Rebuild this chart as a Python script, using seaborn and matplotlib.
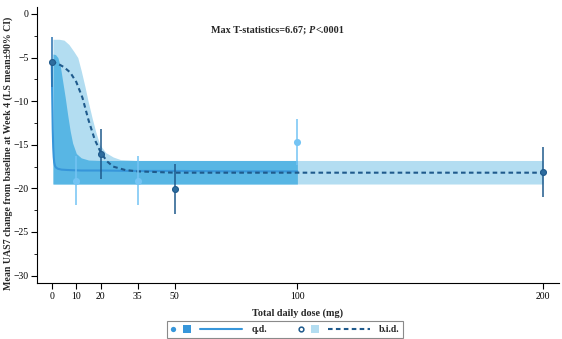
import matplotlib
matplotlib.use("Agg")
import matplotlib.pyplot as plt
import seaborn as sns
import pandas as pd
from matplotlib.lines import Line2D
from matplotlib.patches import Patch, Rectangle
from matplotlib.legend_handler import HandlerBase
from matplotlib.ticker import MultipleLocator

# ---- observed LS means and 90% CIs ----
placebo_dose = [0]
placebo_mean = [-5.5]
placebo_lo = [-8.35]
placebo_hi = [-2.6]

qd_dose = [10, 35, 100]
qd_mean = [-19.1, -19.1, -14.7]
qd_lo = [-21.95, -21.95, -17.3]
qd_hi = [-16.3, -16.3, -12.0]

bid_dose = [20, 50, 200]
bid_mean = [-16.1, -20.1, -18.1]
bid_lo = [-18.9, -22.9, -21.0]
bid_hi = [-13.2, -17.2, -15.3]

# ---- fitted dose-response curves ----
qd_curve_dose = [0, 0.2, 0.4, 0.6, 0.8, 1.0, 1.3, 1.7, 2.5, 4, 7, 12, 20, 35, 50, 75, 100]
qd_curve_mean = [-5.5, -9.5, -13.2, -15.3, -16.4, -17.0, -17.4, -17.6, -17.75, -17.85,
                 -17.9, -17.95, -17.95, -18.0, -18.0, -18.05, -18.05]

bid_curve_dose = [0, 2.5, 5, 7.5, 10, 12.5, 15, 17.5, 20, 22.5, 25, 30, 35, 50, 100, 200]
bid_curve_mean = [-5.5, -5.7, -6.1, -6.7, -7.8, -9.6, -12.2, -14.4, -15.9, -16.9, -17.5,
                  -17.9, -18.05, -18.2, -18.2, -18.2]

# ---- fitted confidence bands ----
qd_band_dose = [0.5, 1.5, 2.5, 3.5, 4.5, 5.5, 6.5, 7.5, 8.5, 10, 12, 15, 20, 35, 50, 100]
qd_band_hi = [-4.6, -4.65, -5.0, -6.0, -7.8, -9.6, -11.6, -13.4, -14.8, -16.0, -16.5,
              -16.75, -16.8, -16.8, -16.8, -16.8]
qd_band_lo = [-19.5] * len(qd_band_dose)

bid_band_dose = [0.5, 3, 5, 7, 9, 10.6, 12, 13.5, 14.8, 16.5, 18, 19.6, 22, 25, 28, 35, 100, 200]
bid_band_hi = [-2.9, -2.9, -3.0, -3.5, -4.3, -5.0, -6.5, -8.3, -10.0, -12.0, -13.6, -15.0,
               -15.9, -16.4, -16.7, -16.8, -16.8, -16.8]
bid_band_lo = [-19.5] * len(bid_band_dose)

dose_ticks = [0, 10, 20, 35, 50, 100, 200]

# ---- colours ----
QD_LINE = "#3796da"
QD_PT = "#74c4f4"
QD_BAND = "#58b6e4"
BID_BAND = "#b3ddf1"
BID_DARK = "#1f5a8c"
BID_PT = "#2d6c9e"

sns.set_style("ticks")
plt.rcParams["font.family"] = ["Liberation Serif", "DejaVu Serif"]
plt.rcParams["axes.unicode_minus"] = True

fig = plt.figure(figsize=(5.62, 3.39), dpi=100)
W, H = 562, 339
ax = fig.add_axes([37 / W, 1 - 283 / H, (559 - 37) / W, (283 - 7) / H])

# bands
ax.fill_between(bid_band_dose, bid_band_lo, bid_band_hi, color=BID_BAND, lw=0, zorder=1)
ax.fill_between(qd_band_dose, qd_band_lo, qd_band_hi, color=QD_BAND, lw=0, zorder=2)

# fitted curves
qd_curve = pd.DataFrame({"dose": qd_curve_dose, "mean": qd_curve_mean})
bid_curve = pd.DataFrame({"dose": bid_curve_dose, "mean": bid_curve_mean})
sns.lineplot(data=qd_curve, x="dose", y="mean", ax=ax, color=QD_LINE, lw=1.5,
             sort=False, zorder=3)
sns.lineplot(data=bid_curve, x="dose", y="mean", ax=ax, color=BID_DARK, lw=1.5,
             sort=False, zorder=4)
ax.lines[-1].set_dashes((2.2, 1.6))


# observed means with CIs
def err(m, lo, hi):
    return [[mm - l for mm, l in zip(m, lo)], [h - mm for mm, h in zip(m, hi)]]


ax.errorbar(qd_dose, qd_mean, yerr=err(qd_mean, qd_lo, qd_hi), fmt="none",
            ecolor=QD_PT, elinewidth=1.1, capsize=0, zorder=5)
ax.errorbar(bid_dose, bid_mean, yerr=err(bid_mean, bid_lo, bid_hi), fmt="none",
            ecolor=BID_DARK, elinewidth=1.1, capsize=0, zorder=5)
ax.errorbar(placebo_dose, placebo_mean, yerr=err(placebo_mean, placebo_lo, placebo_hi),
            fmt="none", ecolor="#2872b0", elinewidth=1.1, capsize=0, zorder=5)

sns.scatterplot(x=qd_dose, y=qd_mean, ax=ax, color=QD_PT, s=26, linewidth=0, zorder=6)
sns.scatterplot(x=bid_dose, y=bid_mean, ax=ax, color=BID_PT, s=18,
                edgecolor=BID_DARK, linewidth=0.8, zorder=6)
sns.scatterplot(x=placebo_dose, y=placebo_mean, ax=ax, color=BID_PT, s=18,
                edgecolor=BID_DARK, linewidth=0.8, zorder=6)

# axes
ax.set_xlim(-6, 206.5)
ax.set_ylim(-30.85, 0.8)
ax.set_xticks(dose_ticks)
ax.set_xticklabels([str(d) for d in dose_ticks])
ax.set_yticks([0, -5, -10, -15, -20, -25, -30])
ax.yaxis.set_minor_locator(MultipleLocator(2.5))
ax.tick_params(axis="both", which="major", length=4, width=0.8, color="black",
               labelsize=7, pad=2.5, labelcolor="black")
ax.tick_params(axis="y", which="major", pad=1.8)
ax.tick_params(axis="y", which="minor", length=2, width=0.6, color="black")
for side in ("top", "right"):
    ax.spines[side].set_visible(False)
for side in ("left", "bottom"):
    ax.spines[side].set_color("black")
    ax.spines[side].set_linewidth(0.8)
ax.grid(False)

ax.set_xlabel("Total daily dose (mg)", fontsize=7.3, fontweight="bold", labelpad=5)
ax.set_ylabel("Mean UAS7 change from baseline at Week 4 (LS mean\u00b190% CI)",
              fontsize=7.1, fontweight="bold")
ax.yaxis.set_label_coords((13 - 37) / 522, 0.47)

# test statistic annotation
t1 = fig.text(211 / W, 1 - 30.5 / H, "Max T-statistics=6.67; ", fontsize=7.3,
              fontweight="bold", ha="left", va="center")
t2 = ax.annotate("P", xy=(1, 0), xycoords=t1, va="bottom", ha="left", fontsize=7.3,
                 fontweight="bold", fontstyle="italic")
ax.annotate("<.0001", xy=(1, 0), xycoords=t2, va="bottom", ha="left", fontsize=7.3,
            fontweight="bold")


# legend: marker, band swatch and line side by side for each regimen
class RegimenHandler(HandlerBase):
    def create_artists(self, legend, orig_handle, xdescent, ydescent, width, height,
                       fontsize, trans):
        dot, box, line = orig_handle
        p = 0.72
        x0 = -xdescent
        yc = -ydescent + height / 2
        a = Line2D([x0 + 3 * p], [yc], ls="none", marker="o",
                   ms=dot.get_markersize(), mfc=dot.get_markerfacecolor(),
                   mec=dot.get_markeredgecolor(), mew=dot.get_markeredgewidth(),
                   transform=trans)
        s = 8 * p
        b = Rectangle((x0 + 13 * p, yc - s / 2), s, s, fc=box.get_facecolor(), ec="none",
                      transform=trans)
        c = Line2D([x0 + 30 * p, x0 + 72 * p], [yc, yc], color=line.get_color(),
                   lw=line.get_linewidth(), transform=trans)
        pattern = line._dash_pattern[1]
        if pattern:
            c.set_dashes(tuple(v / line.get_linewidth() for v in pattern))
        return [a, b, c]


qd_dot = Line2D([], [], ls="none", marker="o", ms=3.8, mfc=QD_LINE, mec=QD_LINE, mew=0)
qd_box = Patch(facecolor=QD_LINE)
qd_ln = Line2D([], [], color=QD_LINE, lw=1.5)
bid_dot = Line2D([], [], ls="none", marker="o", ms=3.4, mfc="white", mec=BID_DARK, mew=1.1)
bid_box = Patch(facecolor=BID_BAND)
bid_ln = Line2D([], [], color=BID_DARK, lw=1.5, dashes=(2.2, 1.6))

leg = fig.legend(handles=[(qd_dot, qd_box, qd_ln), (bid_dot, bid_box, bid_ln)],
                 labels=["q.d.", "b.i.d."], handler_map={tuple: RegimenHandler()},
                 loc="center", bbox_to_anchor=(285 / W, 1 - 329.3 / H), ncol=2,
                 frameon=True, fancybox=False, edgecolor="#8a8a8a", framealpha=1,
                 prop={"size": 7, "weight": "bold"}, handlelength=52 / 7,
                 handletextpad=0.9, columnspacing=3.2, borderpad=0.35,
                 handleheight=1.0)
leg.get_frame().set_linewidth(0.8)

fig.savefig("out.png", dpi=100)
